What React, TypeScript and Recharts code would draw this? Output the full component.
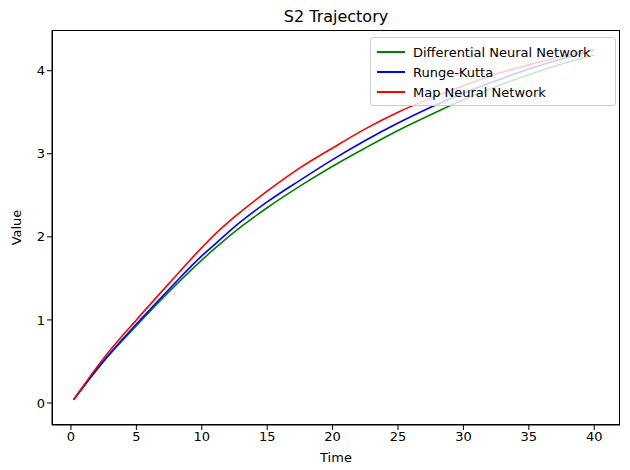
import { LineChart, Line, XAxis, YAxis, Label } from 'recharts'

const times = [0.2, 2.5, 5, 7.5, 10, 11, 12.5, 15, 17.5, 20, 22.5, 25, 27.5, 30, 32.5, 35, 37.5, 40]
const differentialNN = [0.04, 0.5, 0.93, 1.34, 1.72, 1.86, 2.06, 2.35, 2.61, 2.85, 3.07, 3.28, 3.47, 3.65, 3.81, 3.95, 4.08, 4.19]
const rungeKutta = [0.04, 0.51, 0.95, 1.37, 1.77, 1.91, 2.12, 2.42, 2.68, 2.93, 3.16, 3.37, 3.56, 3.73, 3.88, 4.02, 4.14, 4.25]
const mapNN = [0.04, 0.54, 1.0, 1.44, 1.87, 2.03, 2.24, 2.55, 2.83, 3.07, 3.3, 3.5, 3.67, 3.82, 3.96, 4.07, 4.17, 4.25]

const xTicks = [0, 5, 10, 15, 20, 25, 30, 35, 40]
const yTicks = [0, 1, 2, 3, 4]

const legendItems = [
  { name: 'Differential Neural Network', color: '#008000' },
  { name: 'Runge-Kutta', color: '#0000ff' },
  { name: 'Map Neural Network', color: '#ff0000' },
]

const data = times.map((t, i) => ({
  t,
  dnn: differentialNN[i],
  rk: rungeKutta[i],
  mnn: mapNN[i],
}))

const font = 'DejaVu Sans, sans-serif'

export default function App() {
  return (
    <div style={{ position: 'absolute', left: 0, top: 0, width: 630, height: 470, background: '#fff', fontFamily: font }}>
      <div style={{ position: 'absolute', left: 52, width: 568, top: 7, textAlign: 'center', fontSize: 16 }}>
        S2 Trajectory
      </div>
      <LineChart width={630} height={470} data={data} margin={{ top: 30, right: 10, left: 0, bottom: 0 }}>
        <XAxis
          dataKey="t"
          type="number"
          domain={[-1.45, 41.97]}
          ticks={xTicks}
          height={45}
          stroke="#000"
          tick={{ fill: '#000', fontSize: 13, fontFamily: font }}
          tickSize={5}
        >
          <Label value="Time" position="insideBottom" offset={8} style={{ fill: '#000', fontSize: 13, fontFamily: font }} />
        </XAxis>
        <YAxis
          type="number"
          domain={[-0.265, 4.49]}
          ticks={yTicks}
          width={52}
          stroke="#000"
          tick={{ fill: '#000', fontSize: 13, fontFamily: font }}
          tickSize={5}
        >
          <Label value="Value" angle={-90} position="insideLeft" offset={16} style={{ fill: '#000', fontSize: 13, fontFamily: font, textAnchor: 'middle' }} />
        </YAxis>
        <Line type="monotone" dataKey="dnn" stroke="#008000" strokeWidth={1.6} dot={false} isAnimationActive={false} />
        <Line type="monotone" dataKey="rk" stroke="#0000ff" strokeWidth={1.6} dot={false} isAnimationActive={false} />
        <Line type="monotone" dataKey="mnn" stroke="#ff0000" strokeWidth={1.6} dot={false} isAnimationActive={false} />
      </LineChart>
      <div style={{ position: 'absolute', left: 52, top: 30, width: 568, height: 395, border: '1px solid #000', boxSizing: 'border-box', pointerEvents: 'none' }} />
      <div
        style={{
          position: 'absolute',
          left: 370,
          top: 37,
          width: 246,
          height: 69,
          background: 'rgba(255,255,255,0.8)',
          border: '1px solid #ccc',
          borderRadius: 3,
          boxSizing: 'border-box',
          padding: '4px 6px',
          fontSize: 13,
        }}
      >
        {legendItems.map((item) => (
          <div key={item.name} style={{ display: 'flex', alignItems: 'center', height: 20 }}>
            <span style={{ display: 'inline-block', width: 28, height: 2, background: item.color, marginRight: 8 }} />
            {item.name}
          </div>
        ))}
      </div>
    </div>
  )
}
